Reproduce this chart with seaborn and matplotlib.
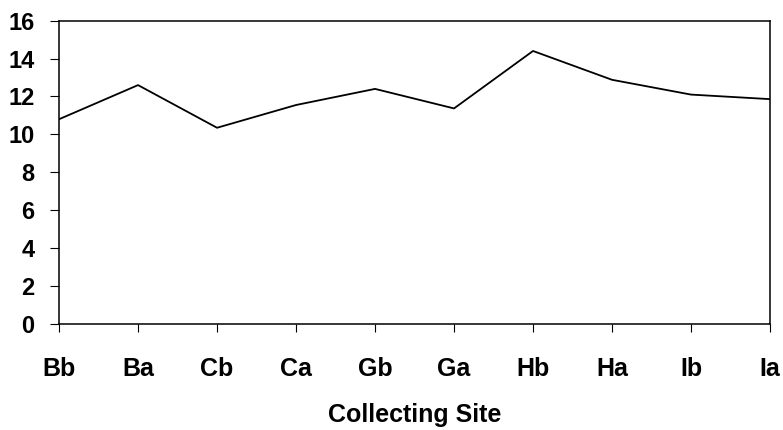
import matplotlib
matplotlib.use("Agg")
import matplotlib.pyplot as plt
import seaborn as sns
import pandas as pd

# values
sites = ["Bb", "Ba", "Cb", "Ca", "Gb", "Ga", "Hb", "Ha", "Ib", "Ia"]
values = [10.8, 12.6, 10.35, 11.55, 12.4, 11.37, 14.4, 12.88, 12.1, 11.86]
y_ticks = [0, 2, 4, 6, 8, 10, 12, 14, 16]

df = pd.DataFrame({"site": sites, "value": values})

sns.set_style("white")
plt.rcParams["font.family"] = ["Liberation Sans", "DejaVu Sans"]
plt.rcParams["font.weight"] = "bold"

fig = plt.figure(figsize=(7.83, 4.30), dpi=100)
ax = fig.add_axes([0.0754, 0.2465, 0.908, 0.7055])

sns.lineplot(data=df, x="site", y="value", color="black", linewidth=1.3, ax=ax, sort=False)

ax.set_xlim(0, len(sites) - 1)
ax.set_ylim(0, 16)
ax.set_yticks(y_ticks)
ax.set_xticks(range(len(sites)))
ax.set_xticklabels(sites)

for s in ax.spines.values():
    s.set_visible(True)
    s.set_color("black")
    s.set_linewidth(1.1)

ax.tick_params(axis="y", direction="out", length=6.5, width=0.8, pad=11,
               labelsize=17, left=True, colors="black")
ax.tick_params(axis="x", direction="out", length=5.5, width=0.8, pad=18,
               labelsize=18, bottom=True, colors="black")
for lab in ax.get_xticklabels() + ax.get_yticklabels():
    lab.set_fontweight("bold")

ax.set_xlabel("Collecting Site", fontsize=18, fontweight="bold", color="black", labelpad=16)
ax.set_ylabel("")
ax.grid(False)

fig.savefig("out.png", dpi=100)
